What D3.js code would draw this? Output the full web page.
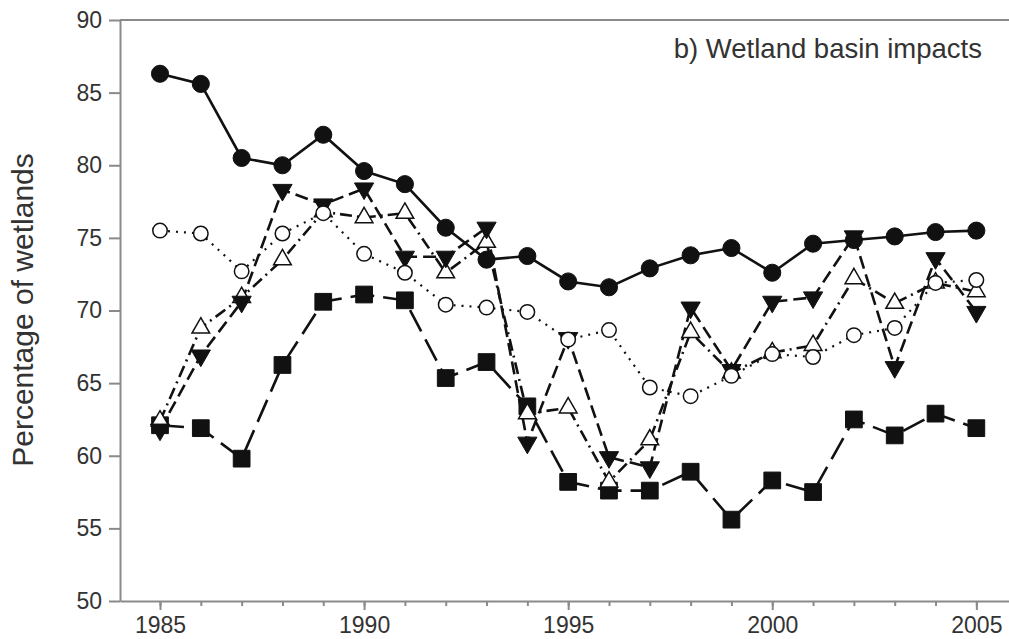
<!DOCTYPE html>
<html>
<head>
<meta charset="utf-8">
<script src="https://cdn.jsdelivr.net/npm/d3@7"></script>
<style>
  body { margin: 0; background: #fff; }
  svg text { font-family: "Liberation Sans", Arial, sans-serif; fill: #333; }
  .axis path, .axis line { stroke: #8a8a8a; stroke-width: 2; }
  .axis text { font-size: 23px; fill: #333; }
</style>
</head>
<body>
<svg id="chart" width="1009" height="639"></svg>
<script>
// Values, one per year 1985..2005.
const years = d3.range(1985, 2006);
const solidCircle = [86.3, 85.6, 80.5, 80.0, 82.1, 79.6, 78.7, 75.7, 73.5, 73.75, 72.0, 71.6, 72.9, 73.8, 74.3, 72.6, 74.6, 74.85, 75.1, 75.4, 75.5];
const openCircle = [75.5, 75.3, 72.7, 75.3, 76.7, 73.9, 72.6, 70.4, 70.2, 69.9, 68.0, 68.65, 64.7, 64.1, 65.5, 67.0, 66.8, 68.3, 68.8, 71.9, 72.1];
const downTriangle = [61.8, 66.9, 70.6, 78.3, 77.3, 78.4, 73.7, 73.7, 75.7, 60.9, 68.1, 59.9, 59.2, 70.2, 65.9, 70.6, 70.9, 75.1, 66.1, 73.6, 69.9];
const openTriangle = [62.4, 68.8, 70.9, 73.5, 76.8, 76.4, 76.7, 72.6, 74.7, 62.9, 63.3, 58.2, 61.1, 68.5, 65.7, 67.1, 67.6, 72.2, 70.5, 71.9, 71.3];
const solidSquare = [62.1, 61.9, 59.8, 66.25, 70.6, 71.1, 70.7, 65.35, 66.45, 63.4, 58.2, 57.6, 57.6, 58.9, 55.6, 58.3, 57.5, 62.5, 61.4, 62.9, 61.9];

const yTicks = [50, 55, 60, 65, 70, 75, 80, 85, 90];
const xMajor = [1985, 1990, 1995, 2000, 2005];
const title = 'b) Wetland basin impacts';
const yLabel = 'Percentage of wetlands';

const chart = d3.select('#chart');
const x = d3.scaleLinear().domain([1984.02, 2005.8]).range([120, 1009]);
const y = d3.scaleLinear().domain([50, 90]).range([601, 20]);

// axes
chart.append('g')
  .attr('class', 'axis')
  .attr('transform', 'translate(120,0)')
  .call(d3.axisLeft(y).tickValues(yTicks).tickSize(11).tickPadding(7).tickSizeOuter(0));

chart.append('g')
  .attr('class', 'axis')
  .attr('transform', 'translate(0,601)')
  .call(d3.axisBottom(x).tickValues(years).tickSize(5).tickFormat('').tickSizeOuter(0));

chart.append('g')
  .attr('class', 'axis')
  .attr('transform', 'translate(0,601)')
  .call(d3.axisBottom(x).tickValues(xMajor).tickSize(9).tickPadding(7).tickFormat(d3.format('d')).tickSizeOuter(0))
  .call(g => g.select('.domain').remove());

chart.append('line')
  .attr('x1', 120).attr('x2', 1009).attr('y1', 20).attr('y2', 20)
  .attr('stroke', '#8a8a8a').attr('stroke-width', 2);

chart.append('text')
  .attr('x', 982).attr('y', 58)
  .attr('text-anchor', 'end')
  .style('font-size', '27.5px')
  .text(title);

chart.append('text')
  .attr('transform', 'translate(33,310) rotate(-90)')
  .attr('text-anchor', 'middle')
  .style('font-size', '30px')
  .text(yLabel);

// series, drawn back to front
const series = [
  { values: solidSquare, dash: '24,9', symbol: d3.symbolSquare, size: 280, fill: '#111', rotate: 0 },
  { values: openTriangle, dash: '12,5,2,5', symbol: d3.symbolTriangle, size: 135, fill: '#fff', rotate: 0 },
  { values: downTriangle, dash: '13,6', symbol: d3.symbolTriangle, size: 160, fill: '#111', rotate: 180 },
  { values: openCircle, dash: '2,6', symbol: d3.symbolCircle, size: 165, fill: '#fff', rotate: 0 },
  { values: solidCircle, dash: null, symbol: d3.symbolCircle, size: 230, fill: '#111', rotate: 0 }
];

const line = d3.line().x((d, i) => x(years[i])).y(d => y(d));

series.forEach(s => {
  chart.append('path')
    .attr('d', line(s.values))
    .attr('fill', 'none')
    .attr('stroke', '#111')
    .attr('stroke-width', s.dash === '2,6' ? 2.2 : 2.6)
    .attr('stroke-dasharray', s.dash);
});

series.forEach(s => {
  const sym = d3.symbol().type(s.symbol).size(s.size);
  chart.append('g').selectAll('path')
    .data(s.values)
    .join('path')
    .attr('transform', (d, i) => `translate(${x(years[i])},${y(d)}) rotate(${s.rotate})`)
    .attr('d', sym)
    .attr('fill', s.fill)
    .attr('stroke', '#111')
    .attr('stroke-width', s.fill === '#fff' ? 1.5 : 1);
});
</script>
</body>
</html>
